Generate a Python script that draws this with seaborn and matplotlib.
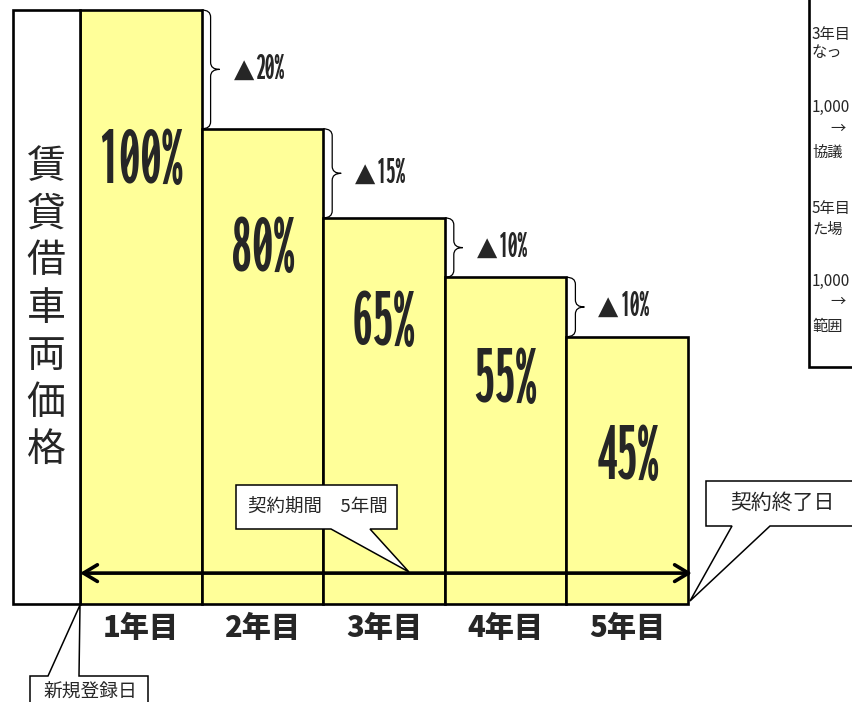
import os
import numpy as np
import pandas as pd
import seaborn as sns
import matplotlib.pyplot as plt
from matplotlib import font_manager
from matplotlib.font_manager import FontProperties
from matplotlib.ft2font import FT2Font
from matplotlib.textpath import TextPath
from matplotlib.path import Path
from matplotlib.patches import PathPatch, Polygon, Rectangle

# data
years = ['1年目', '2年目', '3年目', '4年目', '5年目']
price_pct = [100, 80, 65, 55, 45]
pct_labels = ['100%', '80%', '65%', '55%', '45%']
side_title = '賃貸借車両価格'
note_lines = ['3年目', 'なっ', '1,000', '→', '協議', '5年目', 'た場', '1,000', '→', '範囲']

# positions of the in-bar labels (in % units) and note lines (pixels)
label_y = [74.5, 59.6, 47.2, 37.7, 24.6]
note_x = [812, 812, 812, 830, 812, 812, 812, 812, 830, 812]
note_y = [34, 53, 107, 128, 152, 209, 229, 281, 301, 327]

sns.set_style('white')
plt.rcParams['font.family'] = ['Noto Sans CJK JP', 'DejaVu Sans']


def glyph_box(prop, s):
  # only used to measure, nothing is drawn from it
  ext = TextPath((0, 0), s, size=100, prop=prop).get_extents()
  return ext.width, ext.height


def find_narrow():
  # the reference digits are tall and squeezed, so take the bold face
  # whose "80%" is tallest relative to its width
  best, best_ratio = None, 0
  for f in font_manager.fontManager.ttflist:
    fn = os.path.basename(f.fname).lower()
    if any(w in fn for w in ('italic', 'oblique', 'mono', 'serif', 'math', 'emoji', 'symbol', 'cjk')):
      continue
    wt = f.weight if isinstance(f.weight, int) else font_manager.weight_dict.get(f.weight, 400)
    if wt < 700:
      continue
    try:
      ft = FT2Font(f.fname)
      if any(ft.get_char_index(ord(c)) == 0 for c in '0123456789%'):
        continue
      gw, gh = glyph_box(FontProperties(fname=f.fname), '80%')
    except Exception:
      continue
    if gh / gw > best_ratio:
      best, best_ratio = f.fname, gh / gw
  if best:
    return FontProperties(fname=best)
  return FontProperties(family='DejaVu Sans', weight='bold', stretch='condensed')


def fit_size(prop, s, tw, th, wmax):
  gw, gh = glyph_box(prop, s)
  em = min(np.sqrt((100 * tw / gw) * (100 * th / gh)), 100 * wmax / gw)
  return em * 0.72


narrow = find_narrow()

W, H = 852, 702
fig = plt.figure(figsize=(W / 100, H / 100), dpi=100)

ax = fig.add_axes([80 / W, (H - 604) / H, 608 / W, 594 / H])
deco = fig.add_axes([0, 0, 1, 1])
deco.set_xlim(0, W)
deco.set_ylim(H, 0)
deco.axis('off')
deco.set_zorder(3)

df = pd.DataFrame({'year': years, 'pct': price_pct})
sns.barplot(data=df, x='year', y='pct', color='#FFFF99', saturation=1,
            width=1.0, edgecolor='black', linewidth=1.9, ax=ax, zorder=2)
for p in ax.patches:
  p.set_clip_on(False)
ax.set_xlim(-0.5, 4.5)
ax.set_ylim(0, 100)
ax.set_xlabel('')
ax.set_ylabel('')
ax.set_yticks([])
ax.tick_params(axis='x', length=0, pad=7)
for lab in ax.get_xticklabels():
  lab.set_fontsize(21)
  lab.set_fontweight('heavy')
for s in ax.spines.values():
  s.set_visible(False)

# percentages inside the bars
big = fit_size(narrow, '100%', 84, 53, 108)
for i, (t, y) in enumerate(zip(pct_labels, label_y)):
  ax.text(i, y, t, ha='center', va='center', fontproperties=narrow, fontsize=big, zorder=4)

# curly braces with the drop between years
small = fit_size(narrow, '20%', 34, 21, 44)
sx, sy = 1 / 121.6, 1 / 5.94
for i in range(len(price_pct) - 1):
  x0 = i + 0.5
  yt, yb = price_pct[i], price_pct[i + 1]
  ym = (yt + yb) / 2
  xm, xt, r = x0 + 9 * sx, x0 + 18 * sx, 7 * sy
  verts = [(x0, yt), (xm, yt), (xm, yt - r), (xm, ym + r), (xm, ym), (xt, ym),
           (xm, ym), (xm, ym - r), (xm, yb + r), (xm, yb), (x0, yb)]
  codes = [Path.MOVETO, Path.CURVE3, Path.CURVE3, Path.LINETO, Path.CURVE3, Path.CURVE3,
           Path.CURVE3, Path.CURVE3, Path.LINETO, Path.CURVE3, Path.CURVE3]
  ax.add_patch(PathPatch(Path(verts, codes), fill=False, lw=0.9, color='black', clip_on=False))
  ax.text(x0 + 32 * sx, ym, '▲', ha='left', va='center', family='DejaVu Sans', fontsize=19)
  ax.text(x0 + 54 * sx, ym, '%d%%' % (yt - yb), ha='left', va='center',
          fontproperties=narrow, fontsize=small)

# contract period arrow
ax.annotate('', xy=(-0.5, 5.2), xytext=(4.5 + 4 * sx, 5.2), annotation_clip=False,
            arrowprops=dict(arrowstyle='<->,head_length=1.0,head_width=0.6', lw=2.6,
                            color='black', shrinkA=0, shrinkB=0))

# left title box
deco.add_patch(Rectangle((13, 10), 67, 594, facecolor='white', edgecolor='black', lw=1.9))
for i, ch in enumerate(side_title):
  deco.text(46, 167 + 47.2 * i, ch, ha='center', va='center', fontsize=28)

# right note box (cut by the edge)
deco.add_patch(Rectangle((809, -10), 100, 377, facecolor='white', edgecolor='black', lw=1.9))
for t, x, y in zip(note_lines, note_x, note_y):
  deco.text(x, y, t, ha='left', va='center', fontsize=11)


# callouts
def callout(pts, text, tx, ty, size):
  deco.add_patch(Polygon(pts, closed=True, facecolor='white', edgecolor='black', lw=1.1, zorder=5))
  deco.text(tx, ty, text, ha='center', va='center', fontsize=size, zorder=6)


callout([(236, 485), (397, 485), (397, 529), (370, 529), (409, 572), (331, 529), (236, 529)],
        '契約期間　5年間', 318, 507, 13.3)
callout([(706, 481), (900, 481), (900, 526), (770, 526), (690, 601), (732, 526), (706, 526)],
        '契約終了日', 782, 503, 15)
callout([(30, 676), (48, 676), (80, 605), (79, 676), (148, 676), (148, 720), (30, 720)],
        '新規登録日', 90, 692, 13.5)

fig.savefig('out.png', dpi=100)
